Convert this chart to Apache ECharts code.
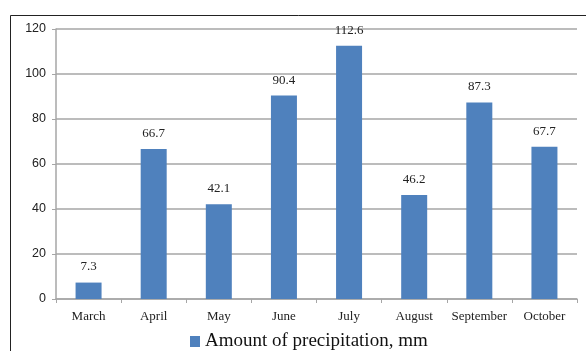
<!DOCTYPE html>
<html><head><meta charset="utf-8">
<script src="https://cdn.jsdelivr.net/npm/echarts@6/dist/echarts.min.js"></script>
<style>html,body{margin:0;padding:0;background:#fff}#c{width:586px;height:351px}</style>
</head><body><div id="c"></div>
<script>
var categories = ["March","April","May","June","July","August","September","October"];
var precipitation = [7.3, 66.7, 42.1, 90.4, 112.6, 46.2, 87.3, 67.7];
var yTicks = [0, 20, 40, 60, 80, 100, 120];
var seriesName = "Amount of precipitation, mm";

var chart = echarts.init(document.getElementById('c'), null, {renderer:'canvas'});
chart.setOption({
  animation: false,
  backgroundColor: '#fff',
  graphic: [{type:'rect', left: 8, top: 13, shape:{width: 620, height: 420}, style:{fill:'none', stroke:'#222', lineWidth:1}, silent:true}],
  grid: {left: 56, right: 9, top: 29, bottom: 52},
  legend: {
    data: [seriesName], left: 185, top: 327, itemWidth: 10, itemHeight: 11, itemGap: 4,
    icon: 'rect',
    textStyle: {fontFamily: 'Liberation Serif', fontSize: 19, color: '#111'}
  },
  xAxis: {
    type: 'category', data: categories,
    axisLine: {lineStyle: {color: '#a6a6a6', width: 1.5}},
    axisTick: {show: true, length: 4, lineStyle: {color: '#a6a6a6'}},
    axisLabel: {interval: 0, fontFamily: 'Liberation Serif', fontSize: 13, color: '#222', margin: 11}
  },
  yAxis: {
    type: 'value', min: yTicks[0], max: yTicks[yTicks.length-1], interval: 20,
    axisLine: {show: true, lineStyle: {color: '#a6a6a6', width: 1.5}},
    axisTick: {show: true, length: 4, lineStyle: {color: '#a6a6a6'}},
    splitLine: {lineStyle: {color: '#a6a6a6', width: 1.5}},
    axisLabel: {fontFamily: 'Liberation Sans', fontSize: 12.5, color: '#222', margin: 10}
  },
  series: [{
    name: seriesName, type: 'bar', data: precipitation, barWidth: 26,
    itemStyle: {color: '#4F81BD'},
    label: {show: true, position: 'top', distance: 9, fontFamily: 'Liberation Serif', fontSize: 13, color: '#222'}
  }]
});
</script></body></html>
